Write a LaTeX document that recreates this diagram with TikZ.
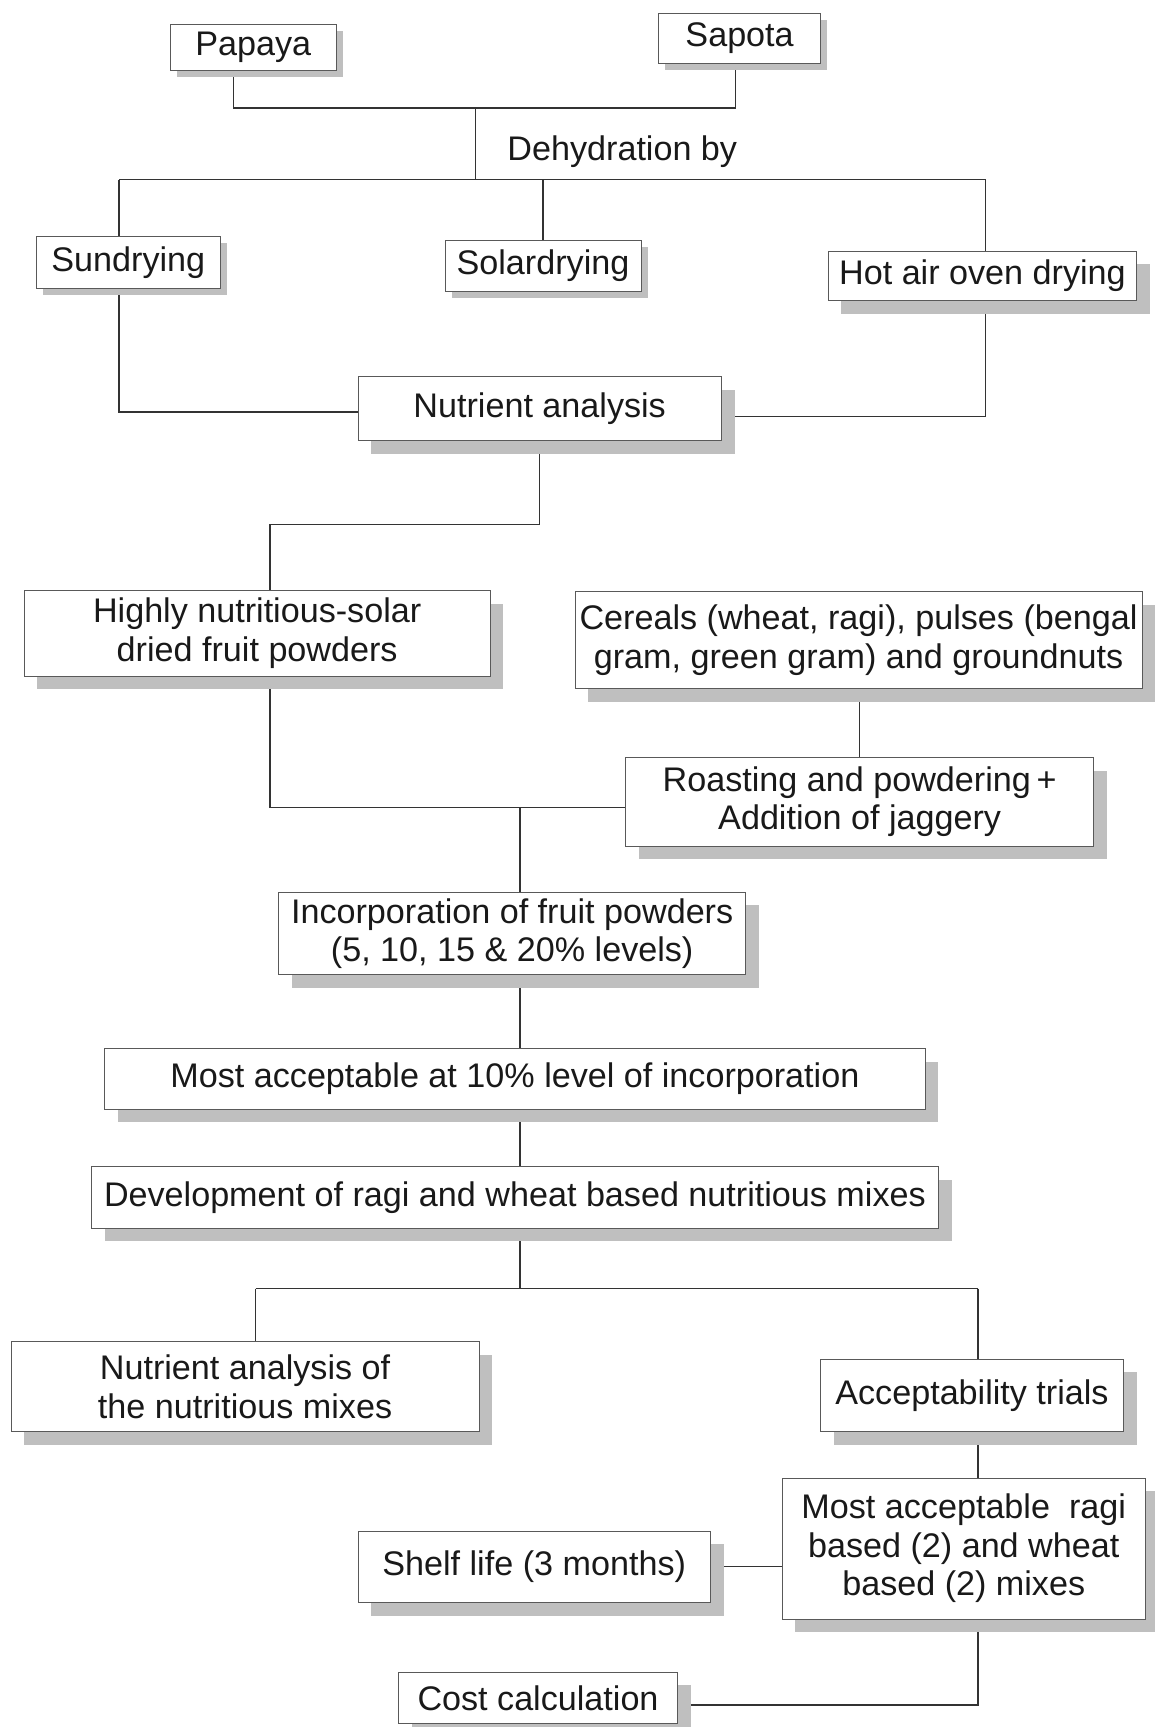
\documentclass[tikz,border=0pt]{standalone}
\usepackage{fontspec}
\setmainfont{Liberation Sans}
\usetikzlibrary{shadows,backgrounds,calc}
\begin{document}
\begin{tikzpicture}[x=1pt,y=-1pt,
  box/.style={draw=black!65, line width=0.7pt, fill=white, inner sep=0pt, align=center,
    font=\fontsize{31}{35}\selectfont, text=black!90},
  wh/.style 2 args={minimum width=#1pt, minimum height=#2pt},
  sshadow/.style={general shadow={fill=gray!50, shadow xshift=6pt, shadow yshift=-6pt}},
  lshadow/.style={general shadow={fill=gray!50, shadow xshift=12pt, shadow yshift=-12pt}},
  link/.style={draw=black!80, line width=1.2pt},
  plain/.style={font=\fontsize{31}{35}\selectfont, text=black!90, inner sep=0pt}]
\useasboundingbox (0,0) rectangle (1048,1568);

\node[box,sshadow,wh={150}{42}] (papaya) at (230,43) {Papaya};
\node[box,sshadow,wh={147}{46}] (sapota) at (671.5,35) {Sapota};
\node[plain] (dehyd) at (565,138) {Dehydration by};
\node[box,sshadow,wh={167}{47}] (sun) at (116.5,238.5) {Sundrying};
\node[box,sshadow,wh={178}{47}] (solar) at (493,241.5) {Solardrying};
\node[box,lshadow,wh={280}{45}] (hot) at (892,250.5) {Hot air oven drying};
\node[box,lshadow,wh={330}{58}] (nut) at (490,371) {Nutrient analysis};
\node[box,lshadow,wh={423}{78}] (high) at (233.5,575) {Highly nutritious-solar\\dried fruit powders};
\node[box,lshadow,wh={515}{88}] (cer) at (779.5,581) {Cereals (wheat, ragi), pulses (bengal\\gram, green gram) and groundnuts};
\node[box,lshadow,wh={425}{80}] (roast) at (780.5,728) {Roasting and powdering\,+\\Addition of jaggery};
\node[box,lshadow,wh={424}{75}] (inc) at (465,847.5) {Incorporation of fruit powders\\(5, 10, 15 \& 20\% levels)};
\node[box,lshadow,wh={745}{55}] (most10) at (467.5,979.5) {Most acceptable at 10\% level of incorporation};
\node[box,lshadow,wh={769}{56}] (dev) at (467.5,1087) {Development of ragi and wheat based nutritious mixes};
\node[box,lshadow,wh={425}{82}] (nutmix) at (222.5,1259) {Nutrient analysis of\\the nutritious mixes};
\node[box,lshadow,wh={275}{66}] (acc) at (882.5,1267) {Acceptability trials};
\node[box,lshadow,wh={330}{128}] (mostragi) at (875,1406) {Most acceptable\ \ ragi\\based (2) and wheat\\based (2) mixes};
\node[box,lshadow,wh={320}{65}] (shelf) at (485,1422.5) {Shelf life (3 months)};
\node[box,lshadow,wh={253}{47}] (cost) at (488.5,1541.5) {Cost calculation};

\begin{scope}[on background layer]
\coordinate (pj) at (212,98);
\coordinate (sj) at (668,98);
\coordinate (dj0) at (432,98);
\coordinate (dj1) at (432,163);
\coordinate (hl) at (108,163);
\coordinate (hr) at (895,163);
\coordinate (nl) at (108,374);
\coordinate (nr) at (895,378);
\draw[link] (papaya.south -| pj) -- (pj) -- (sj) -- (sapota.south -| sj);
\draw[link] (dj0) -- (dj1);
\draw[link] (hl) -- (hr);
\draw[link] (hl) -- (sun.north -| hl);
\draw[link] (dj1 -| solar.north) -- (solar.north);
\draw[link] (hr) -- (hot.north -| hr);
\draw[link] (sun.south -| hl) -- (nl) -- (nut.west |- nl);
\draw[link] (hot.south -| hr) -- (nr) -- (nut.east |- nr);
\coordinate (ha) at (245,476);
\draw[link] (nut.south) |- (ha) -- (high.north -| ha);
\draw[link] (cer.south -| roast.north) -- (roast.north);
\coordinate (rj) at (245,733);
\draw[link] (high.south -| ha) -- (rj) -- (roast.west |- rj);
\coordinate (mx) at (472,733);
\draw[link] (mx) -- (inc.north -| mx);
\draw[link] (inc.south -| mx) -- (most10.north -| mx);
\draw[link] (most10.south -| mx) -- (dev.north -| mx);
\coordinate (bl) at (232,1170);
\coordinate (bm) at (472,1170);
\coordinate (br) at (888,1170);
\draw[link] (dev.south -| bm) -- (bm);
\draw[link] (bl) -- (br);
\draw[link] (bl) -- (nutmix.north -| bl);
\draw[link] (br) -- (acc.north -| br);
\draw[link] (acc.south -| br) -- (mostragi.north -| br);
\coordinate (cj) at (888,1548);
\draw[link] (mostragi.south -| br) -- (cj) -- (cost.east |- cj);
\draw[link] (shelf.east) -- (mostragi.west |- shelf.east);
\end{scope}
\end{tikzpicture}
\end{document}
